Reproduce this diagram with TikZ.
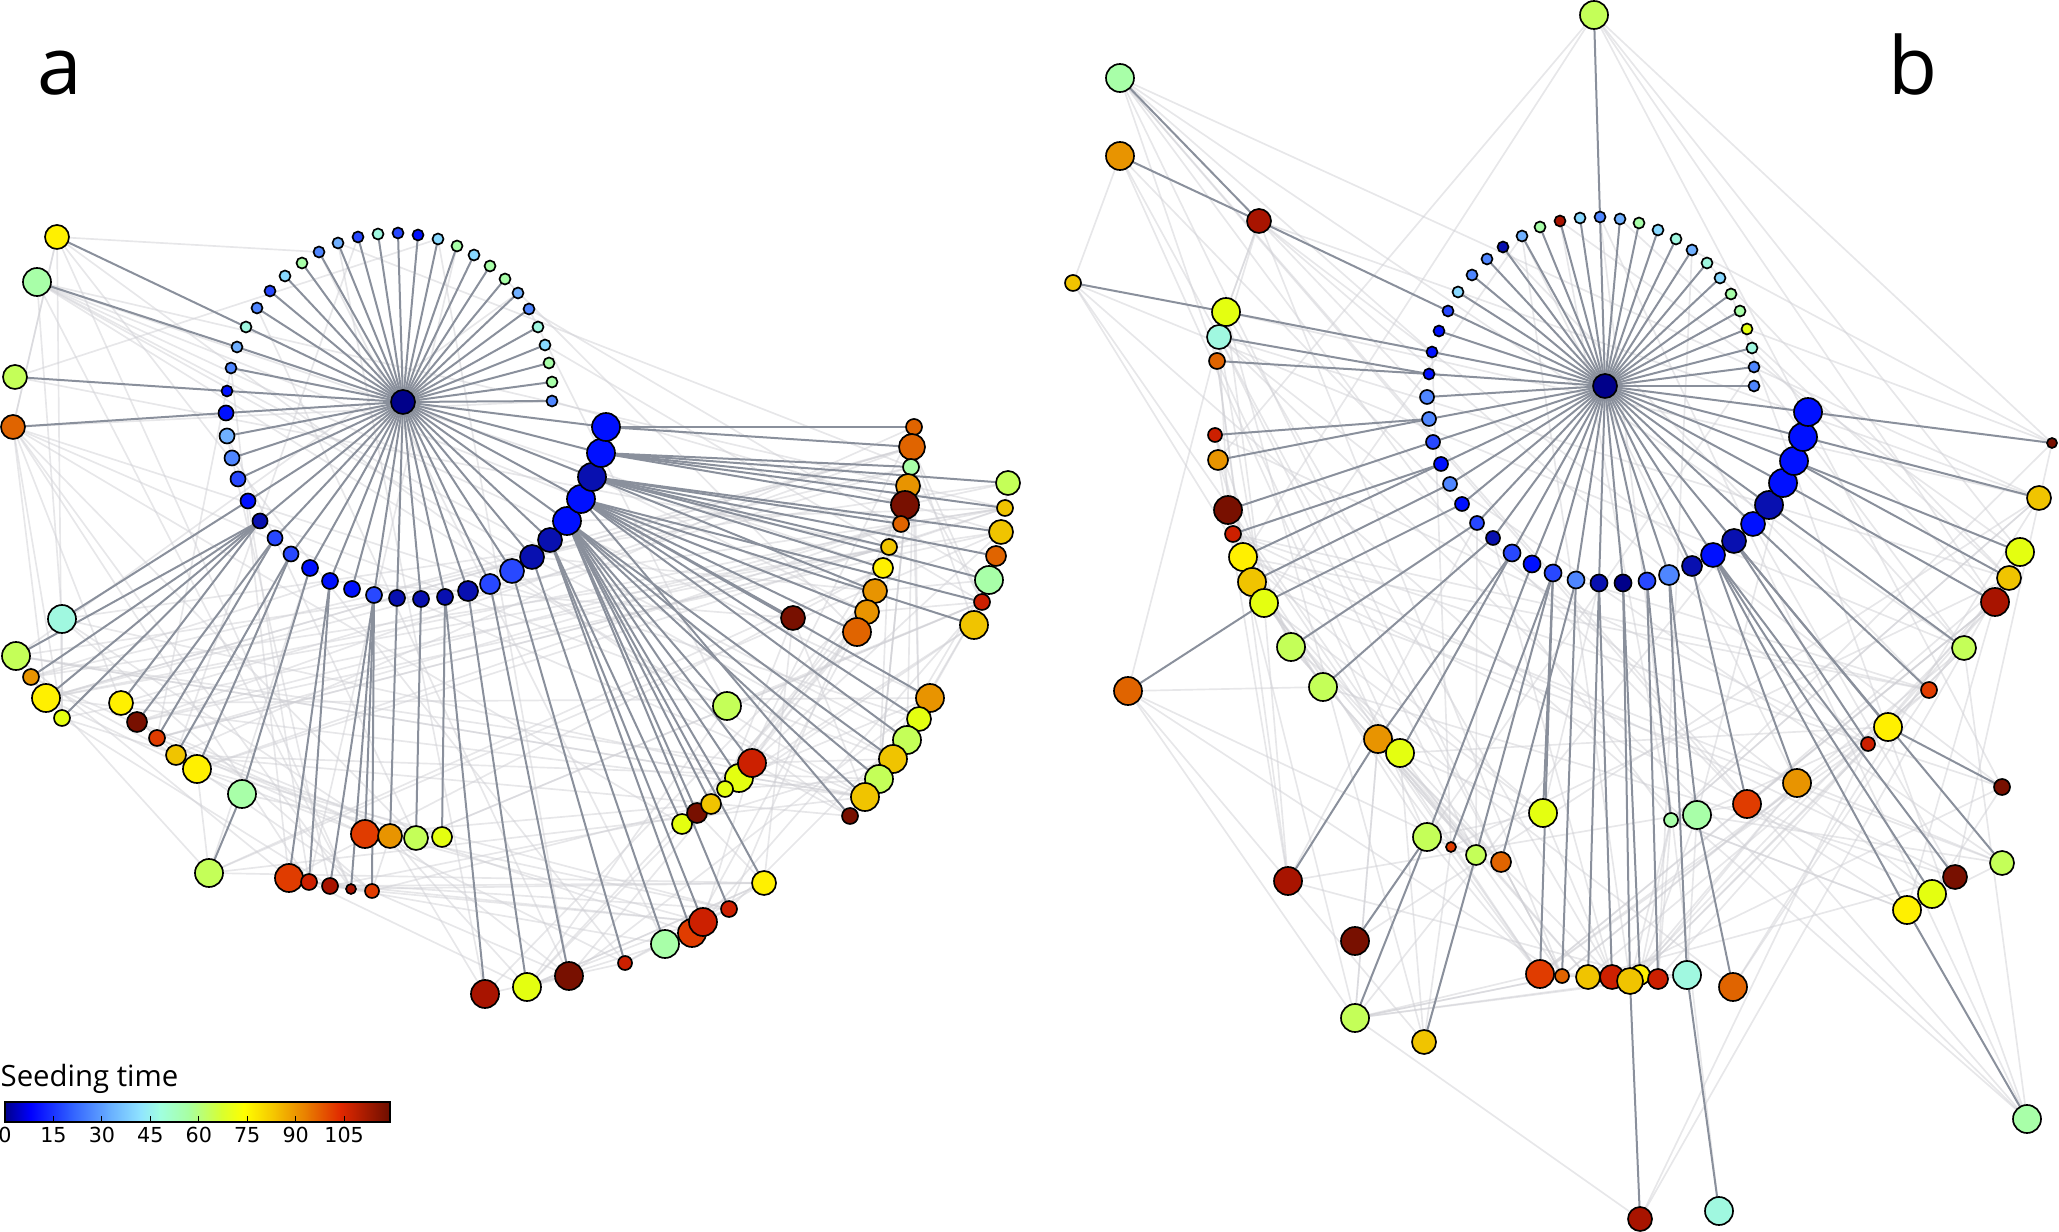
\documentclass[tikz,border=0pt]{standalone}
\usepackage{fontspec}
\newfontfamily\labfont{Open Sans}
\newfontfamily\tickfont{DejaVu Sans}
\usetikzlibrary{backgrounds}
\definecolor{col0}{HTML}{00008A}
\definecolor{col1}{HTML}{0810B0}
\definecolor{col2}{HTML}{0010FF}
\definecolor{col3}{HTML}{2848FF}
\definecolor{col4}{HTML}{4F86FF}
\definecolor{col5}{HTML}{70B0FF}
\definecolor{col6}{HTML}{88D8FF}
\definecolor{col7}{HTML}{A0F8E0}
\definecolor{col8}{HTML}{A8FFA8}
\definecolor{col9}{HTML}{C4FF58}
\definecolor{col10}{HTML}{E4FF10}
\definecolor{col11}{HTML}{FFF000}
\definecolor{col12}{HTML}{F0C400}
\definecolor{col13}{HTML}{E89400}
\definecolor{col14}{HTML}{E06400}
\definecolor{col15}{HTML}{E03C00}
\definecolor{col16}{HTML}{CC2000}
\definecolor{col17}{HTML}{A81400}
\definecolor{col18}{HTML}{781000}
\definecolor{darkedge}{HTML}{8A909C}
\definecolor{liteedge}{HTML}{CFCFD4}
\tikzset{
  nd/.style={circle, draw=black, line width=0.5pt, inner sep=0pt, outer sep=0pt},
  dk/.style={draw=darkedge, line width=0.6pt},
  lt/.style={draw=liteedge, line width=0.5pt, opacity=0.5},
  tick/.style={draw=black, line width=0.3pt},
}
\begin{document}
\begin{tikzpicture}[x=0.3pt,y=-0.3pt]
\useasboundingbox (0,0) rectangle (2059,1232);
% ---------------- panel a ----------------
\node[nd, fill=col0, minimum size=7.2pt] (aH) at (403,402) {};
\foreach \i/\x/\y/\r/\c in {
1/552/401/5.5/col4, 2/552/382/5.5/col8, 3/549/363/5.5/col8, 4/545/345/5.5/col6,
5/538/327/5.5/col7, 6/529/309/5.5/col4, 7/518/293/5.5/col5, 8/505/279/5.5/col8,
9/490/266/5.5/col8, 10/474/255/5.5/col6, 11/457/246/5.5/col8, 12/438/239/5.5/col6,
13/418/235/5.5/col2, 14/398/233/5.5/col3, 15/378/234/5.5/col7, 16/358/237/5.5/col3,
17/338/243/5.5/col5, 18/319/252/5.5/col4, 19/302/263/5.5/col8, 20/285/276/5.5/col6,
21/270/291/5.5/col3, 22/257/308/5.5/col4, 23/246/327/5.5/col7, 24/237/347/5.5/col5,
25/231/368/5.5/col4, 26/227/391/5.5/col2, 27/226/413/7.5/col2, 28/227/436/7.5/col5,
29/232/458/7.5/col4, 30/238/479/7.5/col3, 31/248/501/7.5/col2, 32/260/521/7.5/col1,
33/275/538/7.5/col3, 34/291/554/7.5/col3, 35/310/568/8/col2, 36/330/581/8/col2,
37/352/589/8/col2, 38/374/595/8/col3, 39/397/598/8/col1, 40/421/599/8/col1,
41/445/597/8/col1, 42/468/591/10/col1, 43/490/584/10/col3, 44/512/571/12/col3,
45/532/557/12/col1, 46/550/540/12/col1, 47/567/521/14/col2, 48/581/499/14/col2,
49/592/477/14/col1, 50/601/453/14/col2, 51/606/427/14/col2}
  \node[nd, fill=\c, minimum size=\r*0.6pt] (aR\i) at (\x,\y) {};
\foreach \i/\x/\y/\r/\c in {
1/57/237/12/col11, 2/37/282/14/col8, 3/15/377/12/col9, 4/13/427/12/col14,
5/62/619/14/col7, 6/16/656/14/col9, 7/31/677/8/col13, 8/46/698/14/col11,
9/62/718/8/col10, 10/121/703/12/col11, 11/137/722/10/col18, 12/157/738/8/col15,
13/176/755/10/col12, 14/197/769/14/col11, 15/242/794/14/col8, 16/209/873/14/col9,
17/289/878/14/col15, 18/309/882/8/col16, 19/330/886/8/col17, 20/351/889/5/col17,
21/372/891/7/col15, 22/365/834/14/col15, 23/390/836/12/col13, 24/416/838/12/col9,
25/442/837/10/col10, 26/485/994/14/col17, 27/527/987/14/col10, 28/569/976/14/col18,
29/625/963/7/col16, 30/665/944/14/col8, 31/692/933/14/col15, 32/703/922/14/col16,
33/729/909/8/col16, 34/764/883/12/col11, 35/682/824/10/col10, 36/697/813/10/col18,
37/711/804/10/col12, 38/793/618/12/col18, 39/875/591/12/col13, 40/867/612/12/col13,
41/857/632/14/col14, 42/989/580/14/col8, 43/982/602/8/col16, 44/974/625/14/col12,
45/727/706/14/col9, 47/739/778/14/col10, 46/752/763/14/col16, 48/725/789/8/col10,
49/930/698/14/col13, 50/919/719/12/col10, 51/907/740/14/col9, 52/893/759/14/col12,
53/879/779/14/col9, 54/865/797/14/col12, 55/850/816/8/col18, 56/914/427/8/col14,
57/912/447/13/col14, 58/911/467/8/col8, 59/908/486/12/col13, 60/905/505/14/col18,
61/901/524/8/col14, 62/889/547/8/col12, 63/883/568/10/col11, 64/1008/483/12/col9,
65/1005/508/8/col12, 66/1001/532/12/col12, 67/996/556/10/col14}
  \node[nd, fill=\c, minimum size=\r*0.6pt] (aL\i) at (\x,\y) {};
% ---------------- panel b ----------------
\node[nd, fill=col0, minimum size=7.2pt] (bH) at (1605,386) {};
\foreach \i/\x/\y/\r/\c in {
1/1754/386/5.5/col4, 2/1754/367/5.5/col4, 3/1752/348/5.5/col7, 4/1747/329/5.5/col10,
5/1740/311/5.5/col8, 6/1731/294/5.5/col8, 7/1720/278/5.5/col6, 8/1707/263/5.5/col7,
9/1692/250/5.5/col5, 10/1676/239/5.5/col7, 11/1658/230/5.5/col6, 12/1639/223/5.5/col8,
13/1620/219/5.5/col5, 14/1600/217/5.5/col4, 15/1580/218/5.5/col6, 16/1560/221/5.5/col17,
17/1540/227/5.5/col8, 18/1522/236/5.5/col5, 19/1503/247/5.5/col1, 20/1487/259/5.5/col4,
21/1472/275/5.5/col4, 22/1458/292/5.5/col6, 23/1448/311/5.5/col3, 24/1439/331/5.5/col2,
25/1432/352/5.5/col2, 26/1429/374/5.5/col2, 27/1427/397/7/col4, 28/1429/419/7/col4,
29/1433/442/7/col3, 30/1441/464/7/col2, 31/1450/484/7/col4, 32/1462/504/7/col2,
33/1477/523/7/col3, 34/1493/538/7/col1, 35/1512/553/8.5/col3, 36/1532/564/8.5/col2,
37/1553/573/8.5/col3, 38/1576/580/8.5/col4, 39/1599/583/8.5/col1, 40/1623/583/8.5/col0,
41/1647/581/8.5/col3, 42/1669/575/10/col4, 43/1692/566/10/col1, 44/1713/555/12/col2,
45/1734/541/12/col1, 46/1753/524/12/col2, 47/1769/505/14/col1, 48/1783/483/14/col2,
49/1794/461/14/col2, 50/1803/437/14/col2, 51/1808/412/14/col2}
  \node[nd, fill=\c, minimum size=\r*0.6pt] (bR\i) at (\x,\y) {};
\foreach \i/\x/\y/\r/\c in {
1/1594/15/14/col9, 2/1120/78/14/col8, 3/1120/156/14/col13, 4/1259/221/12/col17,
5/1073/283/8/col12, 6/1226/312/14/col10, 7/1219/337/12/col7, 8/1217/361/8/col14,
9/1215/435/7/col16, 10/1218/460/10/col13, 11/1228/510/14/col18, 12/1233/534/8/col16,
13/1243/557/14/col11, 14/1252/582/14/col12, 15/1264/603/14/col10, 16/1291/647/14/col9,
17/1323/687/14/col9, 18/1128/691/14/col14, 19/1378/739/14/col13, 20/1400/753/14/col10,
21/1427/837/14/col9, 22/1451/847/5/col15, 23/1476/855/10/col9, 24/1501/862/10/col14,
25/1288/881/14/col17, 26/1355/941/14/col18, 27/1355/1018/14/col9, 28/1424/1042/12/col12,
29/1543/813/14/col10, 30/1540/974/14/col15, 31/1562/976/7/col14, 32/1588/977/12/col12,
33/1612/977/12/col16, 34/1640/975/10/col11, 35/1630/981/13/col12, 36/1658/979/10/col16,
37/1687/975/14/col7, 38/1640/1219/12/col17, 39/1719/1211/14/col7, 40/1733/987/14/col14,
41/1671/820/7/col8, 42/1697/815/14/col8, 43/1747/804/14/col15, 44/1797/783/14/col13,
45/1868/744/7/col16, 46/1888/727/14/col11, 47/1929/690/8/col15, 48/1964/648/12/col9,
49/1995/602/14/col17, 50/2009/578/12/col12, 51/2020/552/14/col10, 52/2039/498/12/col12,
53/2052/443/5/col18, 54/2002/787/8/col18, 55/1955/877/12/col18, 56/1932/894/14/col10,
57/1907/910/14/col11, 58/2002/863/12/col9, 59/2027/1119/14/col8}
  \node[nd, fill=\c, minimum size=\r*0.6pt] (bL\i) at (\x,\y) {};
% ---------------- edges ----------------
\begin{pgfonlayer}{background}
\pgfmathsetseed{4242}
% light web, panel a
\foreach \k in {1,...,120}{
  \pgfmathtruncatemacro\myp{random(1,67)}
  \pgfmathtruncatemacro\myd{random(1,20)}
  \pgfmathtruncatemacro\myq{mod(\myp+\myd-1,67)+1}
  \draw[lt] (aL\myp) -- (aL\myq);
}
\foreach \k in {1,...,50}{
  \pgfmathtruncatemacro\myp{random(1,67)}
  \pgfmathtruncatemacro\myd{random(1,66)}
  \pgfmathtruncatemacro\myq{mod(\myp+\myd-1,67)+1}
  \draw[lt] (aL\myp) -- (aL\myq);
}
\foreach \k in {1,...,30}{
  \pgfmathtruncatemacro\myp{random(1,67)}
  \pgfmathtruncatemacro\myq{random(1,51)}
  \draw[lt] (aL\myp) -- (aR\myq);
}
% light web, panel b
\foreach \k in {1,...,110}{
  \pgfmathtruncatemacro\myp{random(1,59)}
  \pgfmathtruncatemacro\myd{random(1,18)}
  \pgfmathtruncatemacro\myq{mod(\myp+\myd-1,59)+1}
  \draw[lt] (bL\myp) -- (bL\myq);
}
\foreach \k in {1,...,45}{
  \pgfmathtruncatemacro\myp{random(1,59)}
  \pgfmathtruncatemacro\myd{random(1,58)}
  \pgfmathtruncatemacro\myq{mod(\myp+\myd-1,59)+1}
  \draw[lt] (bL\myp) -- (bL\myq);
}
\foreach \k in {1,...,30}{
  \pgfmathtruncatemacro\myp{random(1,59)}
  \pgfmathtruncatemacro\myq{random(1,51)}
  \draw[lt] (bL\myp) -- (bR\myq);
}
% dark tree edges
\foreach \i in {1,...,51}{
  \draw[dk] (aH) -- (aR\i);
  \draw[dk] (bH) -- (bR\i);
}
\foreach \s/\t in {aL1/aR23, aL2/aR24, aL3/aR26, aL4/aR27, aL5/aR31, aL6/aR32, aL7/aR32,
 aL8/aR32, aL9/aR32, aL10/aR32, aL11/aR33, aL12/aR33, aL13/aR34, aL14/aR34, aL15/aR35,
 aL16/aL15, aL17/aR36, aL18/aR36, aL19/aR38, aL20/aR38, aL21/aR38, aL22/aR38, aL23/aR39,
 aL24/aR40, aL25/aR41, aL26/aR41, aL27/aR42, aL28/aR43, aL29/aR44, aL30/aR45, aL31/aR46,
 aL32/aR46, aL33/aR47, aL34/aR47, aL35/aR46, aL36/aR47, aL37/aR47, aL38/aR48, aL39/aR49,
 aL40/aR48, aL41/aR48, aL42/aR49, aL43/aR48, aL44/aR48, aL45/aR47, aL46/aR47, aL47/aR47,
 aL48/aR47, aL49/aR48, aL50/aR48, aL51/aR48, aL52/aR47, aL53/aR47, aL54/aR47, aL55/aR48,
 aL56/aR51, aL57/aR51, aL58/aR50, aL59/aR50, aL60/aR50, aL61/aR49, aL62/aR49, aL63/aR49,
 aL64/aR50, aL65/aR50, aL66/aR49, aL67/aR49,
 bL1/bR14, bL2/bL4, bL3/bL4, bL4/bR23, bL5/bL6, bL6/bR25, bL7/bR26, bL8/bR26, bL9/bR28,
 bL10/bR28, bL11/bR29, bL12/bR30, bL13/bR30, bL14/bR31, bL15/bR32, bL16/bR33, bL17/bR34,
 bL18/bL15, bL19/bR35, bL20/bR35, bL21/bR36, bL22/bR37, bL23/bR37, bL24/bR38, bL25/bL19,
 bL26/bL21, bL27/bL21, bL28/bL23, bL29/bR37, bL30/bR37, bL31/bR38, bL32/bR39, bL33/bR39,
 bL34/bR40, bL35/bR40, bL36/bR41, bL37/bR42, bL38/bL35, bL39/bL37, bL40/bL42, bL41/bR41,
 bL42/bR42, bL43/bR43, bL44/bR44, bL45/bR45, bL46/bR45, bL47/bR46, bL48/bR47, bL49/bR48,
 bL50/bR49, bL51/bR49, bL52/bR50, bL53/bR51, bL54/bL46, bL55/bR44, bL56/bR44, bL57/bR44,
 bL58/bR45, bL59/bL57}
  \draw[dk] (\s) -- (\t);
\end{pgfonlayer}
% ---------------- labels ----------------
\node[anchor=base west, inner sep=0pt, font=\labfont\fontsize{24}{24}\selectfont] (labA) at (37,95) {a};
\node[anchor=base west, inner sep=0pt, font=\labfont\fontsize{24}{24}\selectfont] (labB) at (1888,95) {b};
% ---------------- colour bar ----------------
\node[anchor=base west, inner sep=0pt, font=\labfont\fontsize{8.8}{10}\selectfont] (cbTitle) at (0,1086) {Seeding time};
\foreach \xa/\xb/\ca/\cb in {
 5/30.8/00008A/0000FF, 30.8/69.6/0000FF/2E5CFF, 69.6/108.4/2E5CFF/66ACFF,
 108.4/140.7/66ACFF/90E4FF, 140.7/160/90E4FF/A0FFE0, 160/189.1/A0FFE0/A8FFA0,
 189.1/221.4/A8FFA0/D8FF30, 221.4/244/D8FF30/FFFF00, 244/276.3/FFFF00/F4C000,
 276.3/308.6/F4C000/E87800, 308.6/341/E87800/E02800, 341/390/E02800/6C0E00}{
  \definecolor{cbl}{HTML}{\ca}\definecolor{cbr}{HTML}{\cb}
  \shade[left color=cbl, right color=cbr] (\xa-0.3,1102) rectangle (\xb+0.3,1122);
}
\draw[line width=0.4pt] (5,1102) rectangle (390,1122);
\foreach \k/\lab in {0/0,1/15,2/30,3/45,4/60,5/75,6/90,7/105}{
  \draw[tick] ({5+\k*48.45},1122) -- ++(0,-6.5);
  \node[anchor=center, inner sep=0pt, font=\tickfont\fontsize{6.2}{7}\selectfont] at ({5+\k*48.45},1135) {\lab};
}
\end{tikzpicture}
\end{document}
